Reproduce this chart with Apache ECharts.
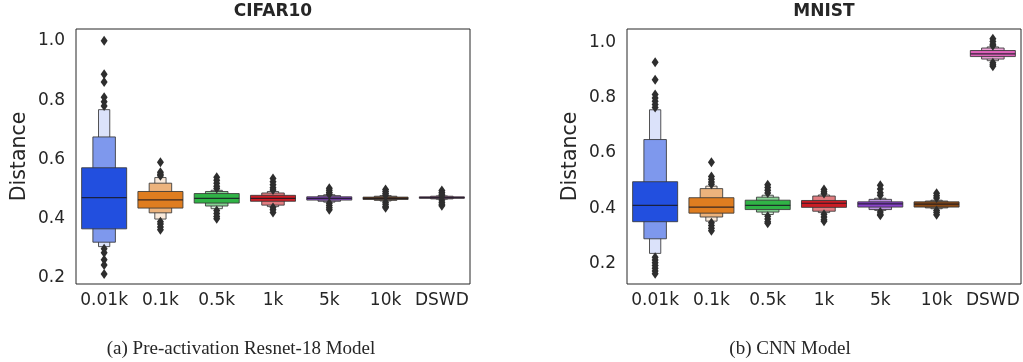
<!DOCTYPE html>
<html>
<head>
<meta charset="utf-8">
<script src="https://cdn.jsdelivr.net/npm/echarts@6/dist/echarts.min.js"></script>
<style>
  html, body { margin: 0; padding: 0; background: #fff; }
  #chart { width: 1023px; height: 362px; }
</style>
</head>
<body>
<div id="chart"></div>
<script>
// categories shared by both panels
const categories = ["0.01k", "0.1k", "0.5k", "1k", "5k", "10k", "DSWD"];
// seaborn "bright" palette
const palette = ["#023eff", "#ff7c00", "#1ac938", "#e8000b", "#8b2be2", "#9f4800", "#f14cc1"];
const yTicks = [0.2, 0.4, 0.6, 0.8, 1.0];

// letter-value boxes, inner (IQR) first: [low, high]
const cifarLevels = [
  [[0.366, 0.572], [0.321, 0.676], [0.306, 0.768]],
  [[0.436, 0.492], [0.420, 0.520], [0.399, 0.539]],
  [[0.453, 0.485], [0.443, 0.492], [0.434, 0.496]],
  [[0.459, 0.479], [0.446, 0.487], [0.441, 0.492]],
  [[0.463, 0.474], [0.459, 0.478], [0.456, 0.481]],
  [[0.465, 0.473], [0.462, 0.476], [0.460, 0.478]],
  [[0.469, 0.474], [0.467, 0.476], [0.466, 0.477]]
];
const cifarMedians = [0.471, 0.464, 0.469, 0.469, 0.469, 0.469, 0.471];
const cifarOutliers = [
  [1.0, 0.887, 0.861, 0.81, 0.795, 0.78, 0.299, 0.285, 0.262, 0.244, 0.214],
  [0.591, 0.557, 0.550, 0.545, 0.390, 0.382, 0.372, 0.363],
  [0.540, 0.530, 0.520, 0.510, 0.502, 0.428, 0.418, 0.408, 0.400],
  [0.536, 0.525, 0.515, 0.505, 0.497, 0.438, 0.430, 0.421],
  [0.503, 0.496, 0.489, 0.483, 0.452, 0.445, 0.437, 0.430],
  [0.499, 0.492, 0.485, 0.479, 0.456, 0.449, 0.441, 0.437],
  [0.495, 0.489, 0.483, 0.478, 0.463, 0.456, 0.449, 0.444]
];

const mnistLevels = [
  [[0.351, 0.496], [0.289, 0.649], [0.236, 0.757]],
  [[0.382, 0.438], [0.368, 0.471], [0.353, 0.480]],
  [[0.395, 0.429], [0.386, 0.440], [0.377, 0.447]],
  [[0.403, 0.428], [0.389, 0.444], [0.384, 0.448]],
  [[0.404, 0.423], [0.395, 0.432], [0.392, 0.436]],
  [[0.404, 0.423], [0.401, 0.426], [0.398, 0.429]],
  [[0.950, 0.972], [0.941, 0.981], [0.935, 0.985]]
];
const mnistMedians = [0.410, 0.404, 0.410, 0.418, 0.416, 0.415, 0.960];
const mnistOutliers = [
  [0.929, 0.866, 0.812, 0.800, 0.788, 0.776, 0.765, 0.222, 0.212, 0.202, 0.192, 0.182, 0.172, 0.162],
  [0.567, 0.515, 0.505, 0.495, 0.487, 0.347, 0.337, 0.327, 0.318],
  [0.485, 0.475, 0.465, 0.455, 0.371, 0.361, 0.351, 0.345],
  [0.468, 0.460, 0.453, 0.378, 0.368, 0.358, 0.353],
  [0.483, 0.470, 0.456, 0.447, 0.386, 0.378, 0.374],
  [0.454, 0.445, 0.437, 0.392, 0.384, 0.376],
  [1.015, 1.005, 0.995, 0.989, 0.928, 0.920, 0.915]
];

const textColor = "#262626";

function hexToRgb(h) {
  return [parseInt(h.slice(1, 3), 16) / 255, parseInt(h.slice(3, 5), 16) / 255, parseInt(h.slice(5, 7), 16) / 255];
}
// same idea as seaborn's desaturate (HLS saturation scaled)
function desaturate(hex, prop) {
  const [r, g, b] = hexToRgb(hex);
  const mx = Math.max(r, g, b), mn = Math.min(r, g, b);
  const l = (mx + mn) / 2;
  if (mx === mn) return [r, g, b];
  const d = mx - mn;
  let s = l > 0.5 ? d / (2 - mx - mn) : d / (mx + mn);
  let h;
  if (mx === r) h = ((g - b) / d + 6) % 6;
  else if (mx === g) h = (b - r) / d + 2;
  else h = (r - g) / d + 4;
  h /= 6;
  s *= prop;
  const q = l < 0.5 ? l * (1 + s) : l + s - l * s;
  const p = 2 * l - q;
  const f = (t) => {
    t = (t + 1) % 1;
    if (t < 1 / 6) return p + (q - p) * 6 * t;
    if (t < 1 / 2) return q;
    if (t < 2 / 3) return p + (q - p) * (2 / 3 - t) * 6;
    return p;
  };
  return [f(h + 1 / 3), f(h), f(h - 1 / 3)];
}
function levelColor(rgb, t) {
  const light = rgb.map(c => c * 0.07 + 0.93);
  const c = rgb.map((v, i) => Math.round((v * t + light[i] * (1 - t)) * 255));
  return "rgb(" + c.join(",") + ")";
}

function boxenSeries(levels, medians, idx) {
  return {
    type: "custom",
    xAxisIndex: idx,
    yAxisIndex: idx,
    z: 2,
    silent: true,
    data: medians.map((m, i) => [i, m]),
    encode: { x: 0, y: 1 },
    renderItem: function (params, api) {
      const i = params.dataIndex;
      const band = api.size([1, 0])[0];
      const cx = api.coord([i, 0])[0];
      const base = desaturate(palette[i], 0.75);
      const lv = levels[i];
      const n = lv.length;
      const children = [];
      for (let k = n - 1; k >= 0; k--) {
        const w = band * 0.8 * Math.pow(0.5, k);
        const top = api.coord([i, lv[k][1]])[1];
        const bot = api.coord([i, lv[k][0]])[1];
        const t = n === 1 ? 1 : 1 - 0.9 * k / (n - 1);
        children.push({
          type: "rect",
          shape: { x: cx - w / 2, y: top, width: w, height: bot - top },
          style: { fill: levelColor(base, t), stroke: "rgba(55,55,55,0.85)", lineWidth: 1 }
        });
      }
      const my = api.coord([i, medians[i]])[1];
      const w0 = band * 0.8;
      children.push({
        type: "line",
        shape: { x1: cx - w0 / 2, y1: my, x2: cx + w0 / 2, y2: my },
        style: { stroke: "rgba(25,25,35,0.85)", lineWidth: 1.2 }
      });
      return { type: "group", children: children };
    }
  };
}

function outlierSeries(outliers, idx) {
  const pts = [];
  outliers.forEach((arr, i) => arr.forEach(v => pts.push([i, v])));
  return {
    type: "scatter",
    xAxisIndex: idx,
    yAxisIndex: idx,
    z: 3,
    silent: true,
    symbol: "diamond",
    symbolSize: [7, 10],
    itemStyle: { color: "#2e2e2e", opacity: 1 },
    data: pts
  };
}

function xAxis(idx) {
  return {
    type: "category",
    gridIndex: idx,
    data: categories,
    axisLine: { show: false },
    axisTick: { show: false },
    axisLabel: { interval: 0, fontSize: 17, fontFamily: "DejaVu Sans", color: textColor, margin: 8 }
  };
}
function yAxis(idx, min, max) {
  return {
    type: "value",
    gridIndex: idx,
    min: min,
    max: max,
    name: "Distance",
    nameLocation: "middle",
    nameGap: 46,
    nameTextStyle: { fontSize: 20.5, fontFamily: "DejaVu Sans", color: textColor },
    axisLine: { show: false },
    axisTick: { show: false },
    splitLine: { show: false },
    axisLabel: {
      customValues: yTicks,
      formatter: v => v.toFixed(1),
      fontSize: 17, fontFamily: "DejaVu Sans", color: textColor, margin: 11
    }
  };
}

function label(text, x, y, font) {
  return {
    type: "text", x: x, y: y, silent: true,
    style: { text: text, font: font, fill: textColor, textAlign: "center", textVerticalAlign: "middle", align: "center", verticalAlign: "middle" }
  };
}

const chart = echarts.init(document.getElementById("chart"), null, { renderer: "canvas" });
chart.setOption({
  animation: false,
  backgroundColor: "#fff",
  grid: [
    { left: 76, right: 553, top: 29, bottom: 78, show: true, borderColor: "#262626", borderWidth: 1, backgroundColor: "#fff" },
    { left: 627, right: 2, top: 29, bottom: 78, show: true, borderColor: "#262626", borderWidth: 1, backgroundColor: "#fff" }
  ],
  xAxis: [xAxis(0), xAxis(1)],
  yAxis: [yAxis(0, 0.18, 1.04), yAxis(1, 0.125, 1.05)],
  series: [
    boxenSeries(cifarLevels, cifarMedians, 0),
    outlierSeries(cifarOutliers, 0),
    boxenSeries(mnistLevels, mnistMedians, 1),
    outlierSeries(mnistOutliers, 1)
  ],
  graphic: [
    label("CIFAR10", 273, 12, "bold 17px 'DejaVu Sans'"),
    label("MNIST", 824, 12, "bold 17px 'DejaVu Sans'"),
    label("(a) Pre-activation Resnet-18 Model", 241, 349, "19px 'Liberation Serif'"),
    label("(b) CNN Model", 790, 349, "19px 'Liberation Serif'")
  ]
});
</script>
</body>
</html>
